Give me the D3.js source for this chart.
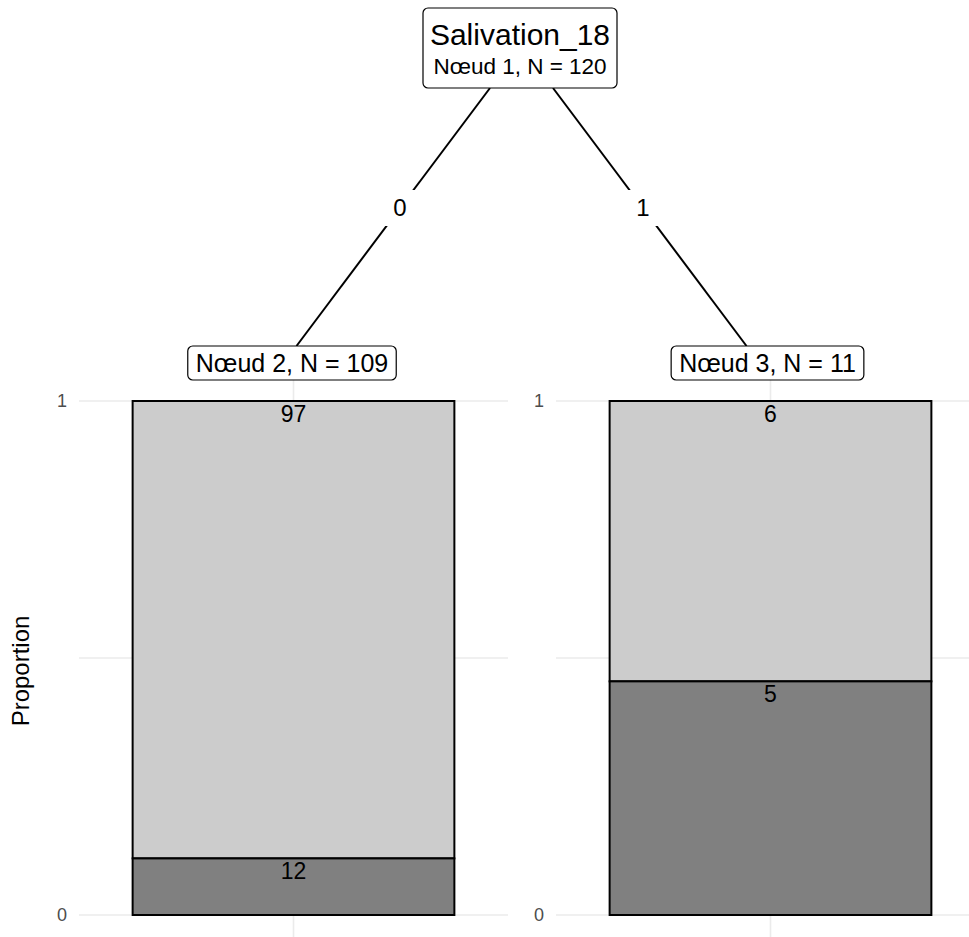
<!DOCTYPE html>
<html>
<head>
<meta charset="utf-8">
<script src="https://cdn.jsdelivr.net/npm/d3@7"></script>
<style>
  html, body { margin: 0; padding: 0; background: #fff; }
  svg { display: block; font-family: "Liberation Sans", Arial, Helvetica, sans-serif; }
</style>
</head>
<body>
<svg id="chart" width="969" height="937"></svg>
<script>
// Decision tree: split variable, terminal nodes and class counts
const splitVar = "Salivation_18";
const rootLabel = "Nœud 1, N = 120";
const edgeLabels = ["0", "1"];
const leafNames = ["Nœud 2", "Nœud 3"];
const leafN = [109, 11];
const countsTop = [97, 6];     // light segment
const countsBottom = [12, 5];  // dark segment
const yTicks = [0, 0.5, 1];
const yTickLabels = ["0", "", "1"];

const svg = d3.select("#chart");
const W = 969, H = 937;

// panels for the terminal nodes
const panelX = d3.scaleBand().domain(leafNames).range([79, 985]).paddingInner(48 / 477).paddingOuter(0);
const y = d3.scaleLinear().domain([0, 1]).range([915, 401]);
const panelTop = 380;

const gridColor = "#ebebeb";

leafNames.forEach((name, i) => {
  const x0 = panelX(name), bw = panelX.bandwidth();
  const cx = x0 + bw / 2;
  const g = svg.append("g");

  // horizontal gridlines
  g.selectAll("line.h").data(yTicks).join("line")
    .attr("x1", x0).attr("x2", x0 + bw)
    .attr("y1", d => y(d)).attr("y2", d => y(d))
    .attr("stroke", gridColor).attr("stroke-width", 1.6);
  // vertical gridline at the bar centre
  g.append("line").attr("x1", cx).attr("x2", cx).attr("y1", panelTop).attr("y2", H)
    .attr("stroke", gridColor).attr("stroke-width", 1.6);

  // tick labels
  g.selectAll("text.tick").data(yTicks.filter((d, k) => yTickLabels[k] !== "")).join("text")
    .attr("x", x0 - 12).attr("y", d => y(d)).attr("dy", "0.35em")
    .attr("text-anchor", "end").attr("font-size", 18).attr("fill", "#4d4d4d")
    .text(d => yTickLabels[yTicks.indexOf(d)]);

  // stacked bar
  const total = countsTop[i] + countsBottom[i];
  const pBottom = countsBottom[i] / total;
  const barW = bw * 0.75;
  const bx = cx - barW / 2;
  g.append("rect").attr("x", bx).attr("y", y(1)).attr("width", barW).attr("height", y(pBottom) - y(1))
    .attr("fill", "#cccccc").attr("stroke", "#000").attr("stroke-width", 2);
  g.append("rect").attr("x", bx).attr("y", y(pBottom)).attr("width", barW).attr("height", y(0) - y(pBottom))
    .attr("fill", "#808080").attr("stroke", "#000").attr("stroke-width", 2);

  // counts
  g.append("text").attr("x", cx).attr("y", y(1) + 13).attr("dy", "0.35em")
    .attr("text-anchor", "middle").attr("font-size", 23).attr("fill", "#000").text(countsTop[i]);
  g.append("text").attr("x", cx).attr("y", y(pBottom) + 13).attr("dy", "0.35em")
    .attr("text-anchor", "middle").attr("font-size", 23).attr("fill", "#000").text(countsBottom[i]);
});

// y axis title
svg.append("text").attr("transform", `translate(29, 671) rotate(-90)`)
  .attr("text-anchor", "middle").attr("font-size", 24).attr("fill", "#000").text("Proportion");

// helper for rounded label boxes
function labelBox(cx, cy, w, h) {
  svg.append("rect").attr("x", cx - w / 2).attr("y", cy - h / 2).attr("width", w).attr("height", h)
    .attr("rx", 5).attr("ry", 5).attr("fill", "#fff").attr("stroke", "#000").attr("stroke-width", 1.2);
}

// tree edges
const root = { x: 520, yTop: 8, yBot: 88 };
const edgeStart = [490, 553];
const edges = leafNames.map((name, i) => {
  const cx = panelX(name) + panelX.bandwidth() / 2;
  const endX = cx + (i === 0 ? 3 : -24);
  return { x1: edgeStart[i], y1: root.yBot, x2: endX, y2: 346, label: edgeLabels[i] };
});
edges.forEach(e => {
  svg.append("line").attr("x1", e.x1).attr("y1", e.y1).attr("x2", e.x2).attr("y2", e.y2)
    .attr("stroke", "#000").attr("stroke-width", 2);
  const ly = 208;
  const lx = e.x1 + (e.x2 - e.x1) * (ly - e.y1) / (e.y2 - e.y1);
  svg.append("rect").attr("x", lx - 16).attr("y", ly - 18).attr("width", 32).attr("height", 36).attr("fill", "#fff");
  svg.append("text").attr("x", lx).attr("y", ly).attr("dy", "0.35em").attr("text-anchor", "middle")
    .attr("font-size", 24).attr("fill", "#000").text(e.label);
});

// root node
labelBox(root.x, (root.yTop + root.yBot) / 2, 194, root.yBot - root.yTop);
svg.append("text").attr("x", root.x).attr("y", 45).attr("text-anchor", "middle")
  .attr("font-size", 30).attr("fill", "#000").text(splitVar);
svg.append("text").attr("x", root.x).attr("y", 74).attr("text-anchor", "middle")
  .attr("font-size", 22.5).attr("fill", "#000").text(rootLabel);

// leaf node labels
leafNames.forEach((name, i) => {
  const cx = panelX(name) + panelX.bandwidth() / 2 + (i === 0 ? -1.5 : -3);
  const txt = `${name}, N = ${leafN[i]}`;
  const t = svg.append("text").attr("x", cx).attr("y", 372)
    .attr("text-anchor", "middle").attr("font-size", 25).attr("fill", "#000").text(txt);
  const w = t.node().getComputedTextLength() + 16;
  svg.insert("rect", () => t.node())
    .attr("x", cx - w / 2).attr("y", 346).attr("width", w).attr("height", 34)
    .attr("rx", 5).attr("ry", 5).attr("fill", "#fff").attr("stroke", "#000").attr("stroke-width", 1.2);
});
</script>
</body>
</html>
